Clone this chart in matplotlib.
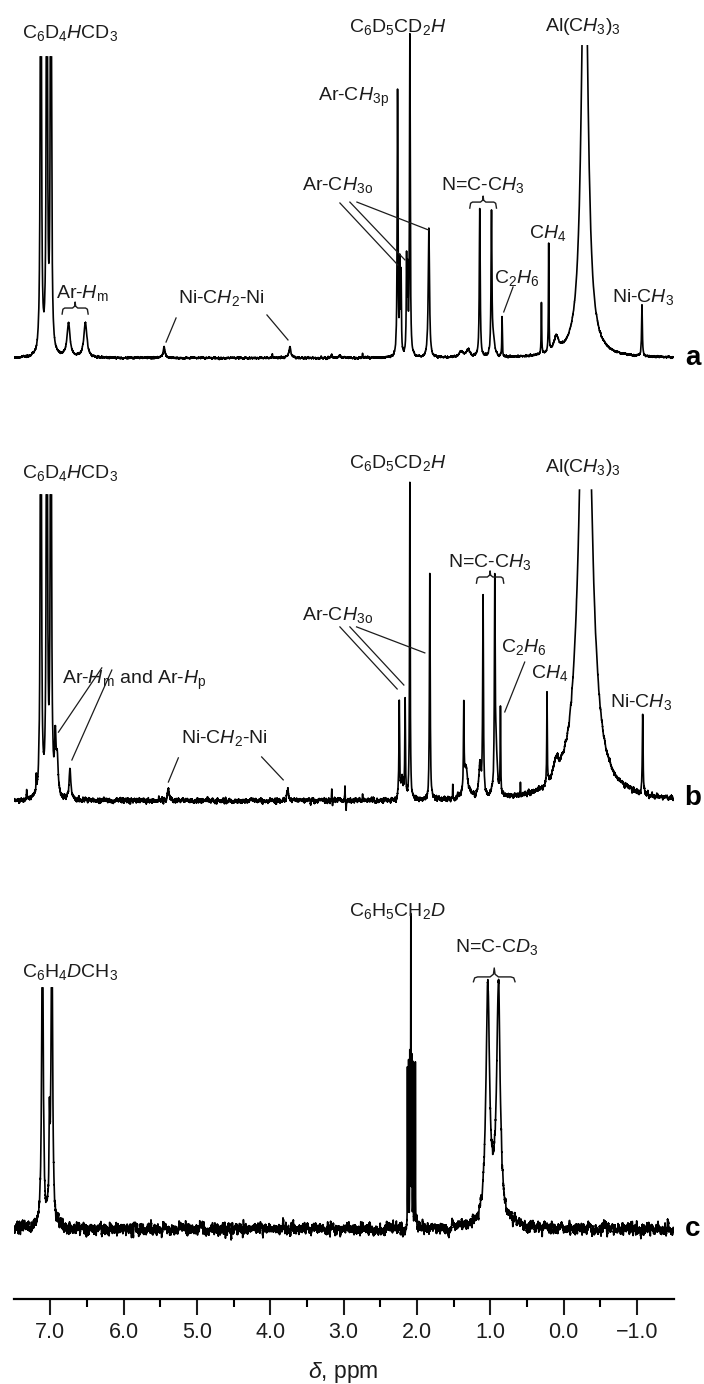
import matplotlib.pyplot as plt
import numpy as np

plt.rcParams['font.family'] = ['Liberation Sans', 'DejaVu Sans']
plt.rcParams['mathtext.fontset'] = 'custom'
plt.rcParams['mathtext.rm'] = 'Liberation Sans'
plt.rcParams['mathtext.it'] = 'Liberation Sans:italic'
plt.rcParams['mathtext.bf'] = 'Liberation Sans:bold'

# peak lists: chemical shift (ppm), relative height, half width (ppm)
A_SHIFT = [7.127, 7.045, 6.99, 6.75, 6.52, 5.447, 3.97, 3.73, 3.16, 3.05,
           2.74, 2.263, 2.232, 2.215, 2.14, 2.125, 2.095, 1.836, 1.40, 1.30,
           1.142, 0.982, 0.955, 0.838, 0.301, 0.202, 0.10, -0.289, -1.07]
A_HEIGHT = [2.5, 2.5, 2.5, 0.11, 0.116, 0.037, 0.012, 0.037, 0.01, 0.01,
            0.012, 0.88, 0.29, 0.26, 0.31, 0.25, 1.06, 0.43, 0.02, 0.025,
            0.49, 0.47, 0.05, 0.13, 0.17, 0.36, 0.05, 1.6, 0.17]
A_WIDTH = [0.007, 0.007, 0.007, 0.025, 0.025, 0.015, 0.004, 0.015, 0.01, 0.01,
           0.004, 0.006, 0.005, 0.005, 0.005, 0.005, 0.006, 0.01, 0.03, 0.03,
           0.007, 0.007, 0.02, 0.004, 0.004, 0.004, 0.04, 0.05, 0.006]
A_CLIP = [(7.127, 1.0), (7.045, 1.0), (6.99, 1.0), (-0.289, 1.037)]

B_SHIFT = [7.32, 7.19, 7.127, 7.045, 6.99, 6.93, 6.905, 6.73, 5.39, 3.76,
           3.16, 3.15, 2.98, 2.965, 2.74, 2.24, 2.20, 2.16, 2.095, 1.823,
           1.51, 1.36, 1.33, 1.14, 1.097, 0.937, 0.92, 0.86, 0.587, 0.225,
           0.10, -0.30, -1.08]
B_HEIGHT = [0.033, 0.05, 2.5, 2.5, 2.5, 0.17, 0.11, 0.105, 0.042, 0.042,
            0.03, -0.02, 0.05, -0.03, 0.02, 0.31, 0.06, 0.32, 1.03, 0.74,
            0.047, 0.27, 0.10, 0.10, 0.64, 0.64, 0.15, 0.28, 0.036, 0.30,
            0.06, 1.85, 0.26]
B_WIDTH = [0.004, 0.004, 0.007, 0.007, 0.007, 0.012, 0.015, 0.013, 0.012, 0.012,
           0.003, 0.003, 0.003, 0.003, 0.003, 0.005, 0.02, 0.005, 0.005, 0.006,
           0.003, 0.005, 0.03, 0.02, 0.006, 0.006, 0.02, 0.004, 0.003, 0.004,
           0.04, 0.09, 0.006]
B_CLIP = [(7.127, 1.0), (7.045, 1.0), (6.99, 1.0), (-0.30, 1.016)]

C_SHIFT = [7.105, 7.01, 6.977, 2.128, 2.112, 2.096, 2.082, 2.068, 2.052,
           2.036, 2.02, 1.033, 0.96, 0.887]
C_HEIGHT = [1.35, 0.33, 1.35, 0.67, 0.67, 0.67, 1.274, 0.67, 0.67,
            0.67, 0.67, 0.94, 0.08, 0.94]
C_WIDTH = [0.012, 0.008, 0.012, 0.0015, 0.0015, 0.0015, 0.0025, 0.0015, 0.0015,
           0.0015, 0.0015, 0.028, 0.12, 0.028]
C_CLIP = [(7.105, 1.0), (6.977, 1.0)]

TICKS = [7, 6, 5, 4, 3, 2, 1, 0, -1]
TICK_LABELS = ['7.0', '6.0', '5.0', '4.0', '3.0', '2.0', '1.0', '0.0', '\u22121.0']
MINOR_TICKS = [6.5, 5.5, 4.5, 3.5, 2.5, 1.5, 0.5, -0.5]

PPM = np.linspace(7.5, -1.5, 30000)
FIG_W, FIG_H = 704, 1384
INK = '#1c1c1c'


def spectrum(shift, height, width, clip, noise, seed):
    """Sum of Lorentzian lines, with tops cut open above the clip levels."""
    y = np.zeros_like(PPM)
    for c, h, w in zip(shift, height, width):
        y += h / (1 + ((PPM - c) / w) ** 2)
    rng = np.random.default_rng(seed)
    raw = np.convolve(rng.normal(size=PPM.size), np.ones(30) / 30, 'same')
    y += noise * raw / raw.std()
    for c, level in clip:
        over = (np.abs(PPM - c) < 0.25) & (y > level)
        inner = over & np.roll(over, 1) & np.roll(over, -1)
        y[over] = level
        y[inner] = np.nan
    return y


def panel(fig, top, bottom, base, unit):
    """Axes spanning figure rows top..bottom (px), baseline at row base."""
    ax = fig.add_axes([13.5 / FIG_W, 1 - bottom / FIG_H,
                       660 / FIG_W, (bottom - top) / FIG_H])
    ax.set_xlim(7.5, -1.5)
    ax.set_ylim((base - bottom) / unit, (base - top) / unit)
    ax.patch.set_alpha(0)
    for s in ax.spines.values():
        s.set_visible(False)
    ax.set_xticks([])
    ax.set_yticks([])
    return ax


def brace(ax, x0, x1, y, hook, tip):
    xm = (x0 + x1) / 2
    d = (x1 - x0) * 0.1
    xs = [x0, x0 + d * 0.3, x0 + d, xm - d, xm - d * 0.2, xm,
          xm + d * 0.2, xm + d, x1 - d, x1 - d * 0.3, x1]
    ys = [y - hook, y - hook * 0.2, y, y, y + tip * 0.3, y + tip,
          y + tip * 0.3, y, y, y - hook * 0.2, y - hook]
    ax.plot(xs, ys, color=INK, lw=1.0, clip_on=False)


def decorate(ax, labels, leaders, braces, letter, letter_y):
    for text, x, y in labels:
        ax.text(x, y, text, fontsize=14, color=INK, ha='center', va='center',
                clip_on=False)
    for (x0, y0), (x1, y1) in leaders:
        ax.plot([x0, x1], [y0, y1], color=INK, lw=0.9, clip_on=False)
    for x0, x1, y, hook, tip in braces:
        brace(ax, x0, x1, y, hook, tip)
    ax.text(-1.76, letter_y, letter, fontsize=20, fontweight='bold',
            color='black', ha='center', va='baseline', clip_on=False)


fig = plt.figure(figsize=(FIG_W / 100, FIG_H / 100), dpi=100)

# spectrum a
ax_a = panel(fig, 0, 420, 358, 301)
ax_a.plot(PPM, spectrum(A_SHIFT, A_HEIGHT, A_WIDTH, A_CLIP, 0.0015, 1),
          color='black', lw=1.2)
decorate(
    ax_a,
    [(r'C$_6$D$_4\mathit{H}$CD$_3$', 6.73, 1.08),
     (r'Ar-$\mathit{H}_\mathrm{m}$', 6.56, 0.216),
     (r'Ni-C$\mathit{H_2}$-Ni', 4.66, 0.20),
     (r'Ar-C$\mathit{H_3}_\mathrm{p}$', 2.865, 0.867),
     (r'Ar-C$\mathit{H_3}_\mathrm{o}$', 3.08, 0.575),
     (r'C$_6$D$_5$CD$_2\mathit{H}$', 2.26, 1.10),
     (r'N=C-C$\mathit{H_3}$', 1.10, 0.575),
     (r'C$_2\mathit{H_6}$', 0.644, 0.266),
     (r'C$\mathit{H_4}$', 0.215, 0.415),
     (r'Al(C$\mathit{H_3}$)$_3$', -0.26, 1.10),
     (r'Ni-C$\mathit{H_3}$', -1.08, 0.203)],
    [((5.283, 0.133), (5.42, 0.053)),
     ((4.044, 0.143), (3.757, 0.06)),
     ((3.049, 0.515), (2.259, 0.309)),
     ((2.913, 0.518), (2.163, 0.326)),
     ((2.817, 0.518), (1.837, 0.425)),
     ((0.688, 0.236), (0.815, 0.153))],
    [(6.837, 6.482, 0.166, 0.02, 0.02),
     (1.278, 0.914, 0.518, 0.02, 0.02)],
    'a', -0.023)

# spectrum b
ax_b = panel(fig, 440, 860, 801, 306)
ax_b.plot(PPM, spectrum(B_SHIFT, B_HEIGHT, B_WIDTH, B_CLIP, 0.004, 2),
          color='black', lw=1.2)
decorate(
    ax_b,
    [(r'C$_6$D$_4\mathit{H}$CD$_3$', 6.73, 1.072),
     (r'Ar-$\mathit{H}_\mathrm{m}$ and Ar-$\mathit{H}_\mathrm{p}$', 5.86, 0.395),
     (r'Ni-C$\mathit{H_2}$-Ni', 4.63, 0.206),
     (r'Ar-C$\mathit{H_3}_\mathrm{o}$', 3.08, 0.608),
     (r'C$_6$D$_5$CD$_2\mathit{H}$', 2.26, 1.105),
     (r'N=C-C$\mathit{H_3}$', 1.005, 0.78),
     (r'C$_2\mathit{H_6}$', 0.54, 0.503),
     (r'C$\mathit{H_4}$', 0.19, 0.418),
     (r'Al(C$\mathit{H_3}$)$_3$', -0.26, 1.09),
     (r'Ni-C$\mathit{H_3}$', -1.06, 0.324)],
    [((6.296, 0.435), (6.887, 0.225)),
     ((6.159, 0.428), (6.704, 0.134)),
     ((5.252, 0.141), (5.388, 0.062)),
     ((4.116, 0.144), (3.822, 0.069)),
     ((3.049, 0.569), (2.268, 0.366)),
     ((2.913, 0.569), (2.177, 0.379)),
     ((2.822, 0.569), (1.891, 0.484)),
     ((0.529, 0.454), (0.801, 0.291))],
    [(1.187, 0.815, 0.732, 0.02, 0.02)],
    'b', -0.013)

# spectrum c, carries the shared ppm scale
ax_c = panel(fig, 880, 1299, 1229, 241)
ax_c.plot(PPM, spectrum(C_SHIFT, C_HEIGHT, C_WIDTH, C_CLIP, 0.012, 3),
          color='black', lw=1.2)
decorate(
    ax_c,
    [(r'C$_6$H$_4\mathit{D}$CH$_3$', 6.73, 1.066),
     (r'C$_6$H$_5$CH$_2\mathit{D}$', 2.27, 1.32),
     (r'N=C-C$\mathit{D_3}$', 0.91, 1.17)],
    [],
    [(1.228, 0.661, 1.046, 0.02, 0.037)],
    'c', -0.03)

ax_c.spines['bottom'].set_visible(True)
ax_c.spines['bottom'].set_linewidth(1.6)
ax_c.set_xticks(TICKS)
ax_c.set_xticklabels(TICK_LABELS)
ax_c.set_xticks(MINOR_TICKS, minor=True)
ax_c.tick_params(axis='x', which='major', direction='out', length=11.5,
                 width=1.5, labelsize=15.5, pad=5, colors=INK)
ax_c.tick_params(axis='x', which='minor', direction='out', length=5.5,
                 width=1.5)
ax_c.set_xlabel(r'$\delta$, ppm', fontsize=16.5, color=INK, labelpad=12)

fig.savefig('out.png', dpi=100)
